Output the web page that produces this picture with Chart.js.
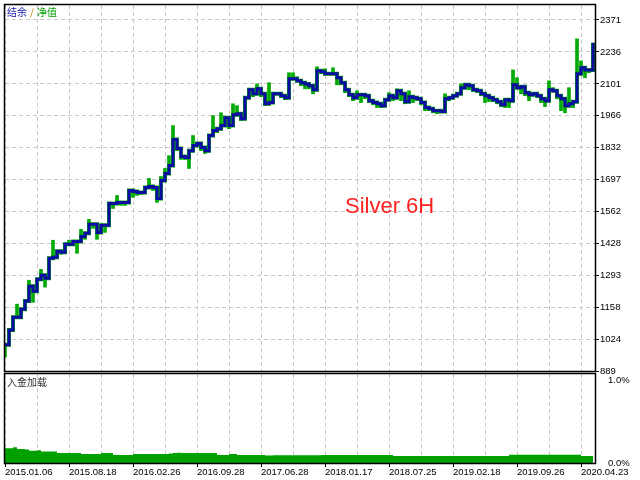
<!DOCTYPE html>
<html>
<head>
<meta charset="utf-8">
<script src="https://cdn.jsdelivr.net/npm/chart.js@4.4.1/dist/chart.umd.min.js"></script>
<style>
	html, body { margin: 0; padding: 0; background: #ffffff; }
	#wrap { position: relative; width: 640px; height: 480px; }
	#wrap canvas { position: absolute; left: 0; top: 0; }
</style>
</head>
<body>
<div id="wrap">
	<canvas id="main-chart" width="640" height="480"></canvas>
	<canvas id="load-chart" width="640" height="480"></canvas>
</div>
<script>
// date labels under the lower panel, one every second grid line
const dateLabels = [
	'2015.01.06', '2015.08.18', '2016.02.26', '2016.09.28', '2017.06.28',
	'2018.01.17', '2018.07.25', '2019.02.18', '2019.09.26', '2020.04.23'
];

// right hand price axis of the main panel
const balanceTicks = [889, 1024, 1158, 1293, 1428, 1562, 1697, 1832, 1966, 2101, 2236, 2371];
const balanceMax = 2434;

// lower panel axis, in percent
const loadTicks = [0, 1.0];
const loadMax = 1.079;

// balance (blue), one value per step of the test
const balance = [
	1000, 1062, 1116, 1116, 1150, 1184, 1247, 1226, 1276, 1293,
	1281, 1365, 1369, 1394, 1390, 1424, 1424, 1436, 1436, 1457,
	1470, 1508, 1508, 1474, 1504, 1504, 1596, 1596, 1600, 1600,
	1600, 1651, 1647, 1643, 1643, 1664, 1668, 1664, 1617, 1693,
	1723, 1756, 1866, 1828, 1794, 1790, 1819, 1841, 1849, 1832,
	1819, 1883, 1904, 1912, 1925, 1958, 1925, 1971, 1975, 1954,
	2043, 2076, 2059, 2080, 2059, 2017, 2022, 2059, 2059, 2051,
	2043, 2123, 2123, 2114, 2106, 2101, 2093, 2076, 2156, 2152,
	2144, 2144, 2144, 2127, 2106, 2076, 2055, 2043, 2055, 2055,
	2051, 2030, 2022, 2017, 2009, 2034, 2051, 2043, 2072, 2059,
	2026, 2047, 2043, 2038, 2022, 2001, 1996, 1988, 1988, 1984,
	2038, 2043, 2051, 2059, 2085, 2097, 2093, 2076, 2072, 2059,
	2051, 2043, 2034, 2026, 2013, 2034, 2030, 2097, 2085, 2089,
	2064, 2055, 2059, 2051, 2038, 2030, 2076, 2072, 2051, 2038,
	2009, 2017, 2026, 2144, 2169, 2160, 2160, 2274
];

// equity (green), same steps, shows the swings of open trades
const equity = [
	948, 1041, 1095, 1171, 1137, 1167, 1272, 1179, 1251, 1318,
	1243, 1348, 1441, 1369, 1382, 1407, 1441, 1424, 1386, 1487,
	1445, 1529, 1491, 1445, 1474, 1474, 1575, 1575, 1630, 1588,
	1588, 1622, 1622, 1630, 1634, 1659, 1702, 1651, 1601, 1710,
	1744, 1798, 1925, 1819, 1782, 1782, 1744, 1883, 1853, 1819,
	1807, 1870, 1967, 1895, 1979, 1946, 1912, 2017, 2009, 1946,
	2030, 2064, 2047, 2101, 2047, 2009, 2106, 2051, 2064, 2043,
	2034, 2148, 2148, 2131, 2093, 2080, 2080, 2059, 2173, 2144,
	2165, 2148, 2169, 2097, 2097, 2064, 2047, 2030, 2072, 2022,
	2038, 2022, 2013, 2001, 2001, 2026, 2064, 2030, 2080, 2030,
	2017, 2072, 2022, 2030, 2013, 1988, 1988, 1979, 1975, 1979,
	2059, 2030, 2043, 2051, 2101, 2101, 2076, 2068, 2064, 2051,
	2022, 2026, 2026, 2017, 2005, 2001, 2001, 2160, 2127, 2059,
	2051, 2030, 2051, 2043, 2022, 2005, 2114, 2085, 2038, 1988,
	1979, 2085, 2001, 2291, 2198, 2127, 2148, 2274
];

// deposit load (lower panel), percent
const depositLoad = [
	0.18, 0.18, 0.19, 0.17, 0.17, 0.165, 0.15, 0.15, 0.155, 0.14,
	0.14, 0.14, 0.14, 0.12, 0.12, 0.12, 0.12, 0.12, 0.12, 0.11,
	0.11, 0.11, 0.11, 0.11, 0.12, 0.12, 0.12, 0.097, 0.097, 0.097,
	0.097, 0.097, 0.11, 0.11, 0.11, 0.11, 0.11, 0.11, 0.11, 0.11,
	0.11, 0.115, 0.12, 0.125, 0.12, 0.12, 0.12, 0.12, 0.12, 0.12,
	0.12, 0.12, 0.12, 0.097, 0.097, 0.097, 0.11, 0.11, 0.097, 0.097,
	0.097, 0.097, 0.097, 0.097, 0.097, 0.09, 0.09, 0.095, 0.095, 0.095,
	0.095, 0.095, 0.095, 0.095, 0.095, 0.095, 0.095, 0.095, 0.095, 0.098,
	0.098, 0.098, 0.098, 0.098, 0.098, 0.098, 0.098, 0.098, 0.098, 0.098,
	0.098, 0.098, 0.098, 0.098, 0.098, 0.098, 0.098, 0.085, 0.085, 0.085,
	0.085, 0.085, 0.085, 0.085, 0.085, 0.085, 0.085, 0.085, 0.085, 0.085,
	0.085, 0.085, 0.085, 0.085, 0.085, 0.085, 0.085, 0.085, 0.085, 0.085,
	0.085, 0.085, 0.085, 0.085, 0.085, 0.085, 0.10, 0.10, 0.10, 0.10,
	0.10, 0.10, 0.10, 0.10, 0.10, 0.10, 0.10, 0.10, 0.10, 0.10,
	0.10, 0.10, 0.10, 0.10, 0.085, 0.085, 0.085, 0.085
];

const gridStep = 8;      // steps between vertical grid lines
const xMax = 147.5;
const gridColor = '#c8c8c8';
const blueColor = '#0c0ca4';
const greenColor = '#00aa00';

Chart.defaults.font.family = '"Liberation Sans", Arial, sans-serif';
Chart.defaults.font.size = 9.5;
Chart.defaults.color = '#000000';
Chart.defaults.animation = false;

function toPoints( values) {
	return values.map( function( v, i) { return { x: i, y: v }; });
}

// equity swing drawn as a bar from the balance to the equity value
function toSwings( base, values) {
	return values.map( function( v, i) { return { x: i, y: [ base[i], v] }; });
}

function stepTicks( axis) {
	var ticks = [];
	for ( var v = 0; v <= xMax; v += gridStep) {
		ticks.push( { value: v });
	}
	axis.ticks = ticks;
}

// black frame round the plot area
const framePlugin = {
	id: 'frame',
	afterDatasetsDraw( chart) {
		const a = chart.chartArea;
		const ctx = chart.ctx;
		ctx.save();
		ctx.strokeStyle = '#000000';
		ctx.lineWidth = 1.5;
		ctx.strokeRect( a.left - 0.5, a.top - 0.5, a.right - a.left + 1, a.bottom - a.top + 1);
		ctx.restore();
	}
};

// panel captions and the red watermark
const mainTextPlugin = {
	id: 'mainText',
	afterDraw( chart) {
		const ctx = chart.ctx;
		ctx.save();
		ctx.textBaseline = 'middle';
		ctx.font = '10px "Noto Sans CJK SC"';
		var x = 7;
		ctx.fillStyle = '#1a1aa8';
		ctx.fillText( '结余', x, 12.5);
		x += ctx.measureText( '结余').width + 3;
		ctx.fillStyle = '#c88000';
		ctx.fillText( '/', x, 12.5);
		x += ctx.measureText( '/').width + 3;
		ctx.fillStyle = '#00a000';
		ctx.fillText( '净值', x, 12.5);

		ctx.textBaseline = 'alphabetic';
		ctx.font = '22px "Liberation Sans", Arial, sans-serif';
		ctx.fillStyle = '#ff2020';
		ctx.fillText( 'Silver 6H', 345, 213);
		ctx.restore();
	}
};

const loadTextPlugin = {
	id: 'loadText',
	afterDraw( chart) {
		const ctx = chart.ctx;
		ctx.save();
		ctx.textBaseline = 'middle';
		ctx.font = '10px "Noto Sans CJK SC"';
		ctx.fillStyle = '#303030';
		ctx.fillText( '入金加载', 7, 382.5);
		ctx.restore();
	}
};

const mainChart = new Chart( document.getElementById( 'main-chart'), {
	type: 'line',
	plugins: [ framePlugin, mainTextPlugin],
	data: {
		datasets: [
			{
				label: '结余',
				data: toPoints( balance),
				borderColor: blueColor,
				borderWidth: 3,
				stepped: true,
				pointRadius: 0,
				borderJoinStyle: 'miter',
				order: 0
			},
			{
				type: 'bar',
				label: '净值',
				data: toSwings( balance, equity),
				backgroundColor: greenColor,
				borderWidth: 0,
				barThickness: 3,
				grouped: false,
				order: 1
			},
			{
				label: '净值 line',
				data: toPoints( balance),
				borderColor: greenColor,
				borderWidth: 4,
				stepped: true,
				pointRadius: 0,
				borderJoinStyle: 'miter',
				order: 2
			}
		]
	},
	options: {
		responsive: false,
		layout: { padding: { left: 5, top: 5, right: 0, bottom: 109 } },
		plugins: {
			legend: { display: false },
			tooltip: { enabled: false }
		},
		scales: {
			x: {
				type: 'linear',
				offset: false,
				min: 0,
				max: xMax,
				afterBuildTicks: stepTicks,
				afterFit: function( axis) { axis.height = 0; axis.paddingLeft = 0; axis.paddingRight = 0; },
				ticks: { display: false },
				grid: { color: gridColor, drawTicks: false, offset: false },
				border: { display: false, dash: [4, 3] }
			},
			y: {
				position: 'right',
				min: balanceTicks[0],
				max: balanceMax,
				afterBuildTicks: function( axis) {
					axis.ticks = balanceTicks.map( function( v) { return { value: v }; });
				},
				afterFit: function( axis) { axis.width = 45; axis.paddingTop = 0; axis.paddingBottom = 0; },
				ticks: {
					padding: 1,
					callback: function( v) { return String( v); }
				},
				grid: {
					color: gridColor,
					tickColor: '#000000',
					tickLength: 4,
					tickBorderDash: []
				},
				border: { display: false, dash: [4, 3] }
			}
		}
	}
});

const loadChart = new Chart( document.getElementById( 'load-chart'), {
	type: 'line',
	plugins: [ framePlugin, loadTextPlugin],
	data: {
		datasets: [
			{
				label: '入金加载',
				data: toPoints( depositLoad),
				borderWidth: 0,
				backgroundColor: '#00a000',
				fill: 'origin',
				stepped: true,
				pointRadius: 0
			}
		]
	},
	options: {
		responsive: false,
		layout: { padding: { left: 5, top: 374, right: 0, bottom: 0 } },
		plugins: {
			legend: { display: false },
			tooltip: { enabled: false }
		},
		scales: {
			x: {
				type: 'linear',
				min: 0,
				max: xMax,
				afterBuildTicks: stepTicks,
				afterFit: function( axis) { axis.height = 17; axis.paddingLeft = 0; axis.paddingRight = 0; },
				ticks: {
					align: 'start',
					autoSkip: false,
					maxRotation: 0,
					padding: 0,
					callback: function( v) {
						return ( v % ( gridStep * 2) === 0) ? dateLabels[ v / ( gridStep * 2)] : '';
					}
				},
				grid: {
					color: gridColor,
					tickLength: 4,
					tickBorderDash: [],
					tickColor: function( ctx) {
						return ( ctx.tick && ctx.tick.value % ( gridStep * 2) === 0) ? '#000000' : 'rgba(0,0,0,0)';
					}
				},
				border: { display: false, dash: [4, 3] }
			},
			y: {
				position: 'right',
				min: 0,
				max: loadMax,
				afterBuildTicks: function( axis) {
					axis.ticks = loadTicks.map( function( v) { return { value: v }; });
				},
				afterFit: function( axis) { axis.width = 45; axis.paddingTop = 0; axis.paddingBottom = 0; },
				ticks: {
					padding: 5,
					callback: function( v) { return v.toFixed( 1) + '%'; }
				},
				grid: { display: false },
				border: { display: false }
			}
		}
	}
});
</script>
</body>
</html>
